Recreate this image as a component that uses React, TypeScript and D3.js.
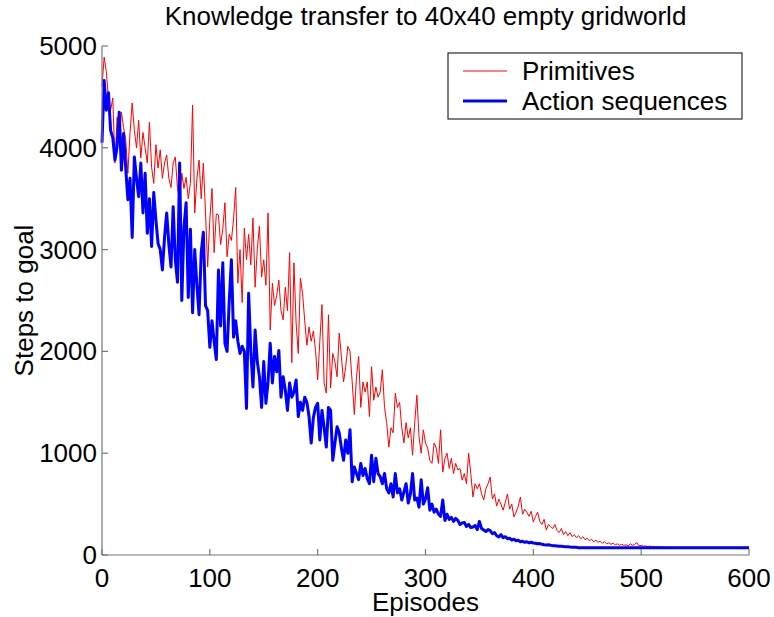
import React from "react";
import * as d3 from "d3";

const title = "Knowledge transfer to 40x40 empty gridworld";
const xLabel = "Episodes";
const yLabel = "Steps to goal";
const seriesNames = ["Primitives", "Action sequences"];
const xTicks = [0, 100, 200, 300, 400, 500, 600];
const yTicks = [0, 1000, 2000, 3000, 4000, 5000];
const episodeStep = 2;

// Primitives: one value every 2 episodes, 0..600
const primitives = [
  4600, 4890, 4750, 4480, 4370, 4490, 3850, 4300, 4100, 4350,
  4200, 4080, 3750, 4150, 4440, 4170, 4000, 4270, 3900, 4150,
  4000, 3850, 4250, 3810, 3650, 4030, 3800, 3980, 3700, 3850,
  3930, 3700, 3610, 3850, 3910, 3600, 3490, 3750, 3600, 3710,
  3500, 3650, 4420, 3360, 3700, 3880, 3500, 3850, 3360, 2830,
  3300, 3600, 2970, 3350, 3340, 3050, 3200, 3460, 2930, 3150,
  3090, 3300, 3610, 2670, 3000, 2480, 3210, 2900, 3150, 2850,
  3310, 2630, 3000, 3230, 2730, 2900, 2650, 3360, 2210, 2670,
  2450, 2550, 2700, 2400, 2310, 2630, 2400, 2970, 1890, 2870,
  2280, 1980, 2720, 2570, 2300, 2060, 2240, 2100, 2200, 2010,
  1720, 2100, 2460, 1690, 1590, 2360, 1640, 1980, 1900, 1750,
  2180, 1950, 1700, 1850, 2050, 2000, 1700, 1380, 1750, 1950,
  1450, 1700, 1600, 1700, 1360, 1850, 1520, 1650, 1550, 1600,
  1820, 1450, 1300, 1060, 1250, 1200, 1590, 1450, 1500, 1250,
  1100, 1300, 1150, 1250, 980, 1300, 1570, 1160, 1000, 1230,
  1100, 1050, 930, 900, 1100, 1050, 900, 1230, 815, 950,
  1000, 850, 950, 800, 900, 835, 850, 735, 800, 700,
  1000, 800, 570, 700, 650, 700, 600, 540, 650, 700,
  766, 550, 600, 480, 550, 500, 440, 520, 600, 450,
  500, 373, 420, 480, 570, 400, 450, 420, 380, 430,
  324, 380, 420, 330, 300, 350, 245, 300, 280, 260,
  300, 240, 220, 260, 200, 230, 190, 220, 180, 200,
  170, 190, 160, 180, 150, 165, 140, 155, 130, 145,
  125, 135, 115, 130, 110, 120, 105, 115, 100, 110,
  95, 105, 95, 100, 90, 110, 95, 105, 120, 90,
  95, 85, 90, 80, 88, 80, 85, 78, 82, 76,
  78, 75, 75, 75, 75, 75, 75, 75, 75, 75,
  75, 75, 75, 75, 75, 75, 75, 75, 75, 75,
  75, 75, 75, 75, 75, 75, 75, 75, 75, 75,
  75, 75, 75, 75, 75, 75, 75, 75, 75, 75,
  75,
];

// Action sequences: one value every 2 episodes, 0..600
const actionSequences = [
  4050, 4660, 4370, 4540, 4170, 4100, 3880, 4010, 4350, 3780,
  4140, 3800, 3490, 3700, 3120, 3910, 3700, 3520, 3850, 3360,
  3750, 3160, 3500, 3030, 3560, 3290, 3060, 3000, 2800, 3120,
  3360, 3050, 2830, 3420, 2900, 2680, 3850, 2500, 3220, 3460,
  2530, 3200, 2380, 3000, 2650, 2360, 2970, 3170, 2450, 2400,
  2040, 2300, 2100, 1920, 2800, 2250, 2870, 2080, 2000, 2500,
  2900, 2140, 2300, 2100, 1980, 2050, 2000, 1440, 2570, 2000,
  1650, 2210, 1900, 1750, 1450, 1900, 1490, 1700, 2080, 1690,
  1950, 1800, 2010, 1550, 1750, 1620, 1420, 1690, 1550, 1600,
  1720, 1360, 1500, 1420, 1550, 1500, 1360, 1100, 1350, 1450,
  1490, 1130, 1420, 1250, 1060, 1450, 1420, 930, 1100, 1260,
  1200, 1050, 930, 1130, 1000, 1230, 720, 865, 800, 740,
  900, 780, 850, 750, 700, 980, 720, 950, 800, 770,
  700, 800, 650, 610, 700, 570, 800, 610, 650, 540,
  620, 700, 510, 600, 800, 540, 560, 470, 740, 500,
  550, 660, 440, 500, 420, 450, 400, 380, 540, 340,
  400, 350, 370, 330, 360, 340, 300, 314, 320, 280,
  300, 270, 275, 290, 250, 330, 260, 245, 230, 250,
  240, 210, 220, 190, 177, 200, 170, 180, 160, 165,
  147, 155, 140, 145, 130, 135, 125, 130, 120, 125,
  118, 115, 110, 112, 105, 100, 98, 100, 95, 92,
  90, 88, 86, 85, 83, 82, 80, 78, 77, 76,
  75, 72, 72, 72, 72, 72, 72, 72, 72, 72,
  72, 72, 72, 72, 72, 72, 72, 72, 72, 72,
  72, 72, 72, 72, 72, 72, 72, 72, 72, 72,
  72, 72, 72, 72, 72, 72, 72, 72, 72, 72,
  72, 72, 72, 72, 72, 72, 72, 72, 72, 72,
  72, 72, 72, 72, 72, 72, 72, 72, 72, 72,
  72, 72, 72, 72, 72, 72, 72, 72, 72, 72,
  72, 72, 72, 72, 72, 72, 72, 72, 72, 72,
  72,
];

const W = 774;
const H = 617;
const FONT = "'Liberation Sans', Arial, Helvetica, sans-serif";

export default function App() {
  const x = d3.scaleLinear().domain([0, 600]).range([102, 749]);
  const y = d3.scaleLinear().domain([0, 5000]).range([555, 46]);
  const line = d3
    .line<number>()
    .x((_, i) => x(i * episodeStep))
    .y((d) => y(d));
  const axisColor = "#777777";
  const fs = 26;

  return (
    <svg
      width={W}
      height={H}
      style={{ position: "absolute", left: 0, top: 0, background: "#fff" }}
      fontFamily={FONT}
    >
      <rect x={0} y={0} width={W} height={H} fill="#fff" />
      {/* series */}
      <path d={line(primitives) || ""} fill="none" stroke="#ff0000" strokeWidth={1} strokeLinejoin="round" />
      <path d={line(actionSequences) || ""} fill="none" stroke="#0000ff" strokeWidth={3} strokeLinejoin="round" />
      {/* axes */}
      <line x1={x(0)} x2={x(0)} y1={y(5000)} y2={y(0)} stroke={axisColor} strokeWidth={1.2} />
      <line x1={x(0)} x2={x(600)} y1={y(0)} y2={y(0)} stroke={axisColor} strokeWidth={1.2} />
      {xTicks.map((t) => (
        <g key={"xt" + t}>
          <line x1={x(t)} x2={x(t)} y1={y(0)} y2={y(0) - 6} stroke={axisColor} strokeWidth={1.2} />
          <text x={x(t)} y={587} textAnchor="middle" fontSize={fs} fill="#000">
            {t}
          </text>
        </g>
      ))}
      {yTicks.map((t) => (
        <g key={"yt" + t}>
          <line x1={x(0)} x2={x(0) + 6} y1={y(t)} y2={y(t)} stroke={axisColor} strokeWidth={1.2} />
          <text x={97} y={y(t) + 9} textAnchor="end" fontSize={fs} fill="#000">
            {t}
          </text>
        </g>
      ))}
      {/* labels */}
      <text x={(x(0) + x(600)) / 2} y={25} textAnchor="middle" fontSize={fs} fill="#000">
        {title}
      </text>
      <text x={(x(0) + x(600)) / 2} y={611} textAnchor="middle" fontSize={fs} fill="#000">
        {xLabel}
      </text>
      <text
        transform={`translate(33,${(y(0) + y(5000)) / 2}) rotate(-90)`}
        textAnchor="middle"
        fontSize={fs}
        fill="#000"
      >
        {yLabel}
      </text>
      {/* legend */}
      <rect x={448} y={53} width={294} height={66} fill="#fff" stroke="#000" strokeWidth={1} />
      <line x1={463} x2={507} y1={71} y2={71} stroke="#ff0000" strokeWidth={1} />
      <text x={522} y={80} fontSize={fs} fill="#000">
        {seriesNames[0]}
      </text>
      <line x1={463} x2={507} y1={101} y2={101} stroke="#0000ff" strokeWidth={3} />
      <text x={522} y={110} fontSize={fs} fill="#000">
        {seriesNames[1]}
      </text>
    </svg>
  );
}
